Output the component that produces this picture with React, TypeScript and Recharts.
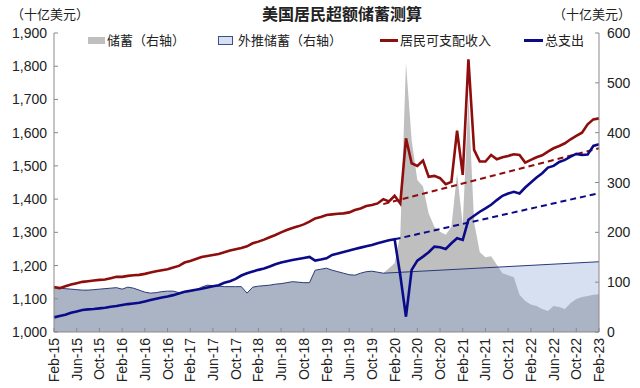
import { Area, ComposedChart, Line, XAxis, YAxis } from "recharts";

// monthly, Feb-15 .. Feb-23
const months = [
  "Feb-15", "Mar-15", "Apr-15", "May-15", "Jun-15", "Jul-15", "Aug-15", "Sep-15", "Oct-15", "Nov-15", "Dec-15",
  "Jan-16", "Feb-16", "Mar-16", "Apr-16", "May-16", "Jun-16", "Jul-16", "Aug-16", "Sep-16", "Oct-16", "Nov-16", "Dec-16",
  "Jan-17", "Feb-17", "Mar-17", "Apr-17", "May-17", "Jun-17", "Jul-17", "Aug-17", "Sep-17", "Oct-17", "Nov-17", "Dec-17",
  "Jan-18", "Feb-18", "Mar-18", "Apr-18", "May-18", "Jun-18", "Jul-18", "Aug-18", "Sep-18", "Oct-18", "Nov-18", "Dec-18",
  "Jan-19", "Feb-19", "Mar-19", "Apr-19", "May-19", "Jun-19", "Jul-19", "Aug-19", "Sep-19", "Oct-19", "Nov-19", "Dec-19",
  "Jan-20", "Feb-20", "Mar-20", "Apr-20", "May-20", "Jun-20", "Jul-20", "Aug-20", "Sep-20", "Oct-20", "Nov-20", "Dec-20",
  "Jan-21", "Feb-21", "Mar-21", "Apr-21", "May-21", "Jun-21", "Jul-21", "Aug-21", "Sep-21", "Oct-21", "Nov-21", "Dec-21",
  "Jan-22", "Feb-22", "Mar-22", "Apr-22", "May-22", "Jun-22", "Jul-22", "Aug-22", "Sep-22", "Oct-22", "Nov-22", "Dec-22",
  "Jan-23", "Feb-23",
];

// 居民可支配收入 (left axis)
const income = [
  1135, 1132, 1138, 1143, 1147, 1151, 1153, 1155, 1157, 1158, 1162, 1166,
  1166, 1169, 1171, 1172, 1175, 1179, 1183, 1186, 1189, 1194, 1199, 1209,
  1214, 1220, 1226, 1229, 1232, 1235, 1240, 1245, 1249, 1253, 1258, 1267,
  1272, 1278, 1285, 1292, 1300, 1307, 1313, 1318, 1324, 1332, 1342, 1346,
  1352, 1354, 1356, 1357, 1360, 1367, 1372, 1379, 1382, 1387, 1400, 1393,
  1410, 1387, 1583, 1508, 1500, 1516, 1467, 1470, 1463, 1445, 1452, 1606,
  1473, 1821, 1548, 1513, 1513, 1533, 1520, 1526, 1530, 1535, 1533, 1510,
  1518, 1526, 1532, 1543, 1553, 1560, 1568, 1580, 1590, 1600, 1625, 1640,
  1643,
];

// 总支出 (left axis)
const spending = [
  1044, 1048, 1052, 1058, 1062, 1066, 1068, 1069, 1071, 1073, 1076, 1078,
  1081, 1084, 1086, 1088, 1092, 1096, 1100, 1104, 1107, 1111, 1116, 1121,
  1124, 1127, 1130, 1134, 1138, 1141, 1148, 1153, 1160, 1170, 1177, 1182,
  1187, 1191, 1197, 1204, 1209, 1213, 1217, 1220, 1223, 1226, 1215, 1218,
  1222, 1232, 1236, 1241, 1245, 1250, 1254, 1258, 1262, 1267, 1272, 1276,
  1279, 1170, 1046, 1187, 1215, 1227, 1240, 1257, 1255, 1250, 1267, 1282,
  1277, 1338, 1350, 1362, 1372, 1383, 1397, 1410, 1417, 1422, 1417, 1435,
  1450, 1465, 1478, 1495, 1500, 1512, 1518, 1528, 1536, 1533, 1534, 1560,
  1565,
];

// 储蓄 (right axis)
const savings = [
  90, 88, 87, 86, 85, 84, 84, 85, 86, 87, 88, 89,
  86, 90, 88, 84, 80, 78, 79, 81, 82, 82, 79, 80,
  81, 84, 90, 94, 93, 92, 91, 91, 91, 91, 78, 90,
  92, 93, 94, 96, 97, 99, 101, 100, 99, 99, 124, 126,
  128, 124, 121, 118, 115, 114, 118, 121, 122, 120, 118, 128,
  138, 195, 540, 385, 305, 292, 238, 211, 201, 195, 211, 318,
  215, 470, 220, 160, 150, 152, 135, 118, 114, 110, 75, 62,
  55, 52, 46, 42, 52, 50, 46, 58, 66, 70, 72, 75,
  76,
];

// trend lines: [start month, start value, end value at Feb-23]
const savingsTrend = { from: "Dec-19", end: 141 };
const incomeTrend = { from: "Dec-19", start: 1385, end: 1553 };
const spendingTrend = { from: "Feb-20", start: 1279, end: 1418 };

const leftTicks = [1000, 1100, 1200, 1300, 1400, 1500, 1600, 1700, 1800, 1900];
const rightTicks = [0, 100, 200, 300, 400, 500, 600];

const last = months.length - 1;
const sIdx = months.indexOf(savingsTrend.from);
const iIdx = months.indexOf(incomeTrend.from);
const pIdx = months.indexOf(spendingTrend.from);

const data = months.map((m, i) => ({
  month: m,
  income: income[i],
  spending: spending[i],
  savings: savings[i],
  extrap: i <= sIdx ? savings[i] : i === last ? savingsTrend.end : null,
  incomeTrend: i === iIdx ? incomeTrend.start : i === last ? incomeTrend.end : null,
  spendingTrend: i === pIdx ? spendingTrend.start : i === last ? spendingTrend.end : null,
}));

const AXIS = "#898989";
const NUM_FONT = "'Liberation Sans', Arial, sans-serif";
const CJK_FONT = "'Noto Sans CJK SC', 'Noto Sans', sans-serif";
const RED = "#8e0d0d";
const NAVY = "#0b0b8a";

const fmt = (v: number) => v.toLocaleString("en-US");

const LeftTick = ({ x, y, payload }: any) => (
  <g>
    <line x1={x + 7} x2={x + 11} y1={y} y2={y} stroke={AXIS} />
    <text x={x} y={y} dy={5} textAnchor="end" fontSize={14} fontFamily={NUM_FONT} fill="#222">
      {fmt(payload.value)}
    </text>
  </g>
);

const RightTick = ({ x, y, payload }: any) => (
  <g>
    <line x1={x - 12} x2={x - 8} y1={y} y2={y} stroke={AXIS} />
    <text x={x} y={y} dy={5} textAnchor="start" fontSize={14} fontFamily={NUM_FONT} fill="#222">
      {payload.value}
    </text>
  </g>
);

const BottomTick = ({ x, y, payload }: any) => (
  <g>
    <line x1={x} x2={x} y1={y - 6} y2={y - 10} stroke={AXIS} />
    <text
      x={x}
      y={y}
      dy={5}
      transform={`rotate(-90 ${x} ${y})`}
      textAnchor="end"
      fontSize={14}
      fontFamily={NUM_FONT}
      fill="#222"
    >
      {payload.value}
    </text>
  </g>
);

const label: React.CSSProperties = {
  position: "absolute",
  fontFamily: CJK_FONT,
  fontSize: 13,
  color: "#222",
  lineHeight: "16px",
  whiteSpace: "nowrap",
};

function LegendRow() {
  return (
    <>
      <div style={{ position: "absolute", left: 88, top: 37, width: 17, height: 7, background: "#bfbfbf" }} />
      <div style={{ ...label, left: 107, top: 32 }}>储蓄（右轴）</div>
      <div
        style={{
          position: "absolute",
          left: 218,
          top: 36,
          width: 13,
          height: 7,
          background: "#d7e0f0",
          border: "1px solid #3b4f8f",
        }}
      />
      <div style={{ ...label, left: 238, top: 32 }}>外推储蓄（右轴）</div>
      <div style={{ position: "absolute", left: 380, top: 39, width: 18, height: 3, background: RED }} />
      <div style={{ ...label, left: 400, top: 32 }}>居民可支配收入</div>
      <div style={{ position: "absolute", left: 524, top: 39, width: 19, height: 3, background: NAVY }} />
      <div style={{ ...label, left: 545, top: 32 }}>总支出</div>
    </>
  );
}

export default function App() {
  return (
    <div style={{ position: "fixed", left: 0, top: 0, width: 640, height: 388, background: "#fff" }}>
      <div style={{ ...label, left: 0, width: 640, textAlign: "center", top: 5, fontSize: 16, fontWeight: 700, paddingLeft: 22 }}>
        美国居民超额储蓄测算
      </div>
      <div style={{ ...label, left: 11, top: 6 }}>（十亿美元）</div>
      <div style={{ ...label, left: 553, top: 6 }}>（十亿美元）</div>
      <ComposedChart width={640} height={388} data={data} margin={{ top: 33, right: 0, bottom: 0, left: 0 }}>
        <XAxis
          dataKey="month"
          interval={3}
          height={56}
          tickSize={0}
          tickMargin={6}
          tick={<BottomTick />}
          axisLine={{ stroke: AXIS }}
          tickLine={false}
        />
        <YAxis
          yAxisId="left"
          domain={[1000, 1900]}
          ticks={leftTicks}
          width={54}
          tickSize={0}
          tickMargin={7}
          tick={<LeftTick />}
          axisLine={{ stroke: AXIS }}
          tickLine={false}
          allowDataOverflow
        />
        <YAxis
          yAxisId="right"
          orientation="right"
          domain={[0, 600]}
          ticks={rightTicks}
          width={41}
          tickSize={0}
          tickMargin={8}
          tick={<RightTick />}
          axisLine={{ stroke: AXIS }}
          tickLine={false}
        />
        <Area
          yAxisId="right"
          dataKey="savings"
          type="linear"
          fill="#bfbfbf"
          fillOpacity={1}
          stroke="none"
          isAnimationActive={false}
        />
        <Area
          yAxisId="right"
          dataKey="extrap"
          type="linear"
          connectNulls
          fill="#809fd1"
          fillOpacity={0.32}
          stroke="#2a3a78"
          strokeWidth={1}
          isAnimationActive={false}
        />
        <Line
          yAxisId="left"
          dataKey="incomeTrend"
          connectNulls
          stroke={RED}
          strokeWidth={2}
          strokeDasharray="6 4"
          dot={false}
          isAnimationActive={false}
        />
        <Line
          yAxisId="left"
          dataKey="spendingTrend"
          connectNulls
          stroke={NAVY}
          strokeWidth={2}
          strokeDasharray="6 4"
          dot={false}
          isAnimationActive={false}
        />
        <Line
          yAxisId="left"
          dataKey="income"
          type="linear"
          stroke={RED}
          strokeWidth={2.6}
          dot={false}
          isAnimationActive={false}
        />
        <Line
          yAxisId="left"
          dataKey="spending"
          type="linear"
          stroke={NAVY}
          strokeWidth={2.6}
          dot={false}
          isAnimationActive={false}
        />
      </ComposedChart>
      <LegendRow />
    </div>
  );
}
